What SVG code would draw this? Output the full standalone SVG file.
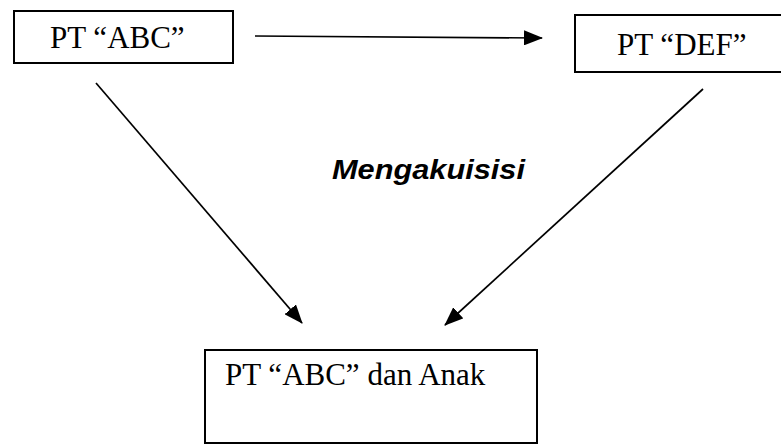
<svg xmlns="http://www.w3.org/2000/svg" width="781" height="445" viewBox="0 0 781 445">
<style>
.box{fill:#fff;stroke:#000;stroke-width:2}
.lbl{font-family:"Liberation Serif","Times New Roman",serif;font-size:31px;fill:#000}
.em{font-family:"Liberation Sans",Arial,sans-serif;font-size:28px;font-weight:bold;font-style:italic;fill:#000}
.conn{stroke:#000;stroke-width:1.7;fill:none}
</style>
<defs>
<marker id="ah" viewBox="0 0 19 15" refX="18" refY="7.5" markerWidth="19" markerHeight="15" markerUnits="userSpaceOnUse" orient="auto">
<path d="M0,0 L19,7.5 L0,15 Z" fill="#000"/>
</marker>
</defs>
<rect width="781" height="445" fill="#fff"/>
<g id="node-abc">
<rect class="box" x="14" y="11" width="219" height="52"/>
<text class="lbl" x="50" y="48">PT “ABC”</text>
</g>
<g id="node-def">
<rect class="box" x="575" y="15" width="212" height="57"/>
<text class="lbl" x="617" y="55">PT “DEF”</text>
</g>
<g id="node-abc-anak">
<rect class="box" x="205" y="350" width="332" height="93"/>
<text class="lbl" x="225" y="385">PT “ABC” dan Anak</text>
</g>
<g id="label-mengakuisisi">
<text class="em" x="332" y="179" textLength="193" lengthAdjust="spacingAndGlyphs">Mengakuisisi</text>
</g>
<g id="connectors">
<line class="conn" x1="255" y1="36" x2="542" y2="38" marker-end="url(#ah)"/>
<line class="conn" x1="96" y1="83" x2="302" y2="323" marker-end="url(#ah)"/>
<line class="conn" x1="703" y1="89" x2="445" y2="325" marker-end="url(#ah)"/>
</g>
</svg>
